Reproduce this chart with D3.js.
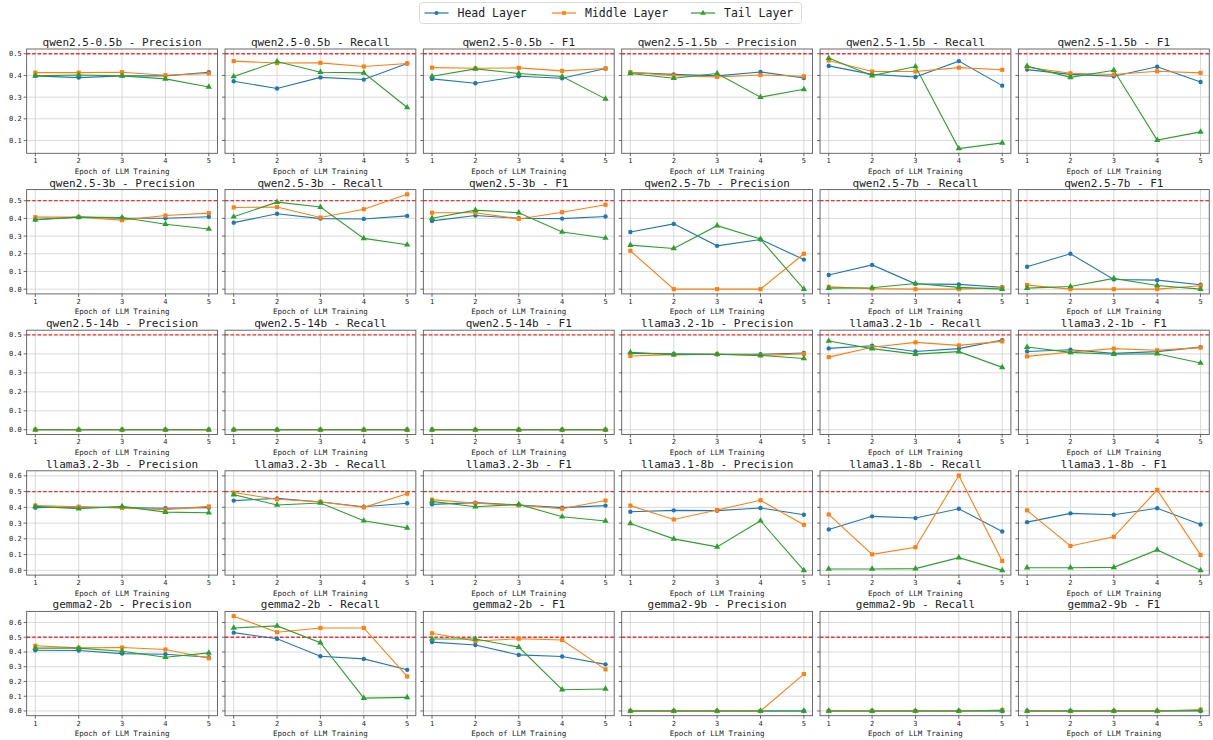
<!DOCTYPE html>
<html>
<head>
<meta charset="utf-8">
<script src="https://cdn.jsdelivr.net/npm/d3@7"></script>
<style>
    body { margin: 0; background: #fff; }
    text { font-family: "DejaVu Sans Mono", monospace; fill: #222; }
</style>
</head>
<body>
<div id="chart"></div>
<script>
// epochs on the x axis
const epochs = [1, 2, 3, 4, 5];
const layers = ["Head Layer", "Middle Layer", "Tail Layer"];
const layerColors = ["#1f77b4", "#ff7f0e", "#2ca02c"];
const layerSymbols = [d3.symbolCircle, d3.symbolSquare, d3.symbolTriangle];
const metrics = ["Precision", "Recall", "F1"];
const modelNames = ["qwen2.5-0.5b", "qwen2.5-1.5b", "qwen2.5-3b", "qwen2.5-7b", "qwen2.5-14b",
    "llama3.2-1b", "llama3.2-3b", "llama3.1-8b", "gemma2-2b", "gemma2-9b"];
const yTicksByRow = [
    [0.1, 0.2, 0.3, 0.4, 0.5],
    [0.0, 0.1, 0.2, 0.3, 0.4, 0.5],
    [0.0, 0.1, 0.2, 0.3, 0.4, 0.5],
    [0.0, 0.1, 0.2, 0.3, 0.4, 0.5, 0.6],
    [0.0, 0.1, 0.2, 0.3, 0.4, 0.5, 0.6]
];
const threshold = 0.5;

// each model: [Precision, Recall, F1], each metric: [head, middle, tail]
const qwen25_05b = [
    [[0.398, 0.390, 0.398, 0.398, 0.415], [0.413, 0.413, 0.415, 0.401, 0.409], [0.398, 0.402, 0.398, 0.384, 0.347]],
    [[0.373, 0.340, 0.391, 0.381, 0.455], [0.466, 0.457, 0.458, 0.441, 0.455], [0.395, 0.464, 0.415, 0.412, 0.252]],
    [[0.384, 0.364, 0.396, 0.387, 0.432], [0.436, 0.433, 0.435, 0.421, 0.432], [0.396, 0.430, 0.409, 0.395, 0.292]]
];
const qwen25_15b = [
    [[0.413, 0.405, 0.398, 0.416, 0.388], [0.415, 0.399, 0.393, 0.402, 0.396], [0.409, 0.387, 0.409, 0.300, 0.336]],
    [[0.444, 0.405, 0.393, 0.466, 0.353], [0.469, 0.418, 0.418, 0.436, 0.426], [0.480, 0.399, 0.441, 0.063, 0.089]],
    [[0.427, 0.405, 0.396, 0.440, 0.370], [0.438, 0.410, 0.404, 0.419, 0.412], [0.443, 0.391, 0.424, 0.102, 0.140]]
];
const qwen25_3b = [
    [[0.394, 0.407, 0.401, 0.401, 0.409], [0.407, 0.407, 0.390, 0.416, 0.430], [0.392, 0.407, 0.405, 0.367, 0.340]],
    [[0.376, 0.426, 0.399, 0.397, 0.414], [0.462, 0.464, 0.405, 0.452, 0.536], [0.409, 0.492, 0.464, 0.287, 0.251]],
    [[0.386, 0.416, 0.401, 0.399, 0.411], [0.432, 0.432, 0.397, 0.435, 0.477], [0.401, 0.447, 0.432, 0.323, 0.289]]
];
const qwen25_7b = [
    [[0.323, 0.369, 0.245, 0.281, 0.167], [0.217, 0.0, 0.0, 0.0, 0.200], [0.249, 0.230, 0.359, 0.283, 0.0]],
    [[0.080, 0.137, 0.030, 0.027, 0.011], [0.013, 0.003, 0.0, 0.0, 0.008], [0.006, 0.008, 0.032, 0.010, 0.0]],
    [[0.127, 0.200, 0.055, 0.051, 0.025], [0.023, 0.0, 0.0, 0.0, 0.019], [0.006, 0.015, 0.061, 0.021, 0.0]]
];
const qwen25_14b = [
    [[0, 0, 0, 0, 0], [0, 0, 0, 0, 0], [0, 0, 0, 0, 0]],
    [[0, 0, 0, 0, 0], [0, 0, 0, 0, 0], [0, 0, 0, 0, 0]],
    [[0, 0, 0, 0, 0], [0, 0, 0, 0, 0], [0, 0, 0, 0, 0]]
];
const llama32_1b = [
    [[0.403, 0.401, 0.398, 0.398, 0.405], [0.389, 0.396, 0.398, 0.392, 0.400], [0.408, 0.396, 0.398, 0.392, 0.376]],
    [[0.429, 0.443, 0.413, 0.428, 0.473], [0.383, 0.435, 0.461, 0.445, 0.466], [0.468, 0.428, 0.399, 0.412, 0.329]],
    [[0.413, 0.422, 0.403, 0.412, 0.436], [0.387, 0.410, 0.428, 0.419, 0.433], [0.436, 0.408, 0.398, 0.401, 0.352]]
];
const llama32_3b = [
    [[0.398, 0.402, 0.398, 0.394, 0.398], [0.411, 0.404, 0.396, 0.385, 0.406], [0.406, 0.391, 0.406, 0.370, 0.366]],
    [[0.443, 0.457, 0.434, 0.404, 0.426], [0.494, 0.451, 0.436, 0.400, 0.487], [0.481, 0.415, 0.428, 0.315, 0.270]],
    [[0.419, 0.430, 0.415, 0.398, 0.411], [0.449, 0.426, 0.413, 0.391, 0.443], [0.438, 0.404, 0.419, 0.340, 0.313]]
];
const llama31_8b = [
    [[0.372, 0.381, 0.379, 0.396, 0.353], [0.411, 0.323, 0.383, 0.445, 0.289], [0.298, 0.200, 0.149, 0.315, 0.0]],
    [[0.260, 0.343, 0.332, 0.391, 0.247], [0.355, 0.102, 0.147, 0.602, 0.060], [0.009, 0.009, 0.011, 0.081, 0.0]],
    [[0.306, 0.362, 0.353, 0.394, 0.291], [0.381, 0.155, 0.213, 0.511, 0.098], [0.017, 0.017, 0.019, 0.130, 0.0]]
];
const gemma2_2b = [
    [[0.412, 0.410, 0.389, 0.385, 0.364], [0.442, 0.428, 0.430, 0.417, 0.357], [0.426, 0.426, 0.405, 0.364, 0.394]],
    [[0.531, 0.490, 0.371, 0.353, 0.279], [0.643, 0.534, 0.563, 0.563, 0.234], [0.563, 0.577, 0.463, 0.087, 0.092]],
    [[0.467, 0.447, 0.380, 0.369, 0.316], [0.527, 0.474, 0.490, 0.481, 0.282], [0.488, 0.488, 0.433, 0.144, 0.149]]
];
const gemma2_9b = [
    [[0, 0, 0, 0, 0], [0, 0, 0, 0, 0.250], [0, 0, 0, 0, 0]],
    [[0, 0, 0, 0, 0], [0, 0, 0, 0, 0.007], [0, 0, 0, 0, 0.002]],
    [[0, 0, 0, 0, 0], [0, 0, 0, 0, 0.010], [0, 0, 0, 0, 0.003]]
];
const modelValues = [qwen25_05b, qwen25_15b, qwen25_3b, qwen25_7b, qwen25_14b,
    llama32_1b, llama32_3b, llama31_8b, gemma2_2b, gemma2_9b];

const width = 1213, height = 740;
const left0 = 26.65, top0 = 49;
const pw = 190.85, ph = 104.3;
const colStep = 198.35, rowStep = 140.6;

const svg = d3.select("#chart").append("svg")
    .attr("width", width)
    .attr("height", height);

const x = d3.scaleLinear().domain([0.8, 5.2]).range([0, pw]);

// legend
const legend = svg.append("g").attr("transform", "translate(419.5,2.5)");
legend.append("rect")
    .attr("width", 382).attr("height", 21).attr("rx", 3)
    .attr("fill", "#fff").attr("stroke", "#d0d0d0").attr("stroke-width", 0.8);
const legendX = [5, 132.5, 271.5];
layers.forEach((name, i) => {
    const item = legend.append("g").attr("transform", `translate(${legendX[i]},10.5)`);
    item.append("line").attr("x1", 0).attr("x2", 24)
        .attr("stroke", layerColors[i]).attr("stroke-width", 1.2);
    item.append("path").attr("transform", "translate(12,0)")
        .attr("d", d3.symbol().type(layerSymbols[i]).size(14)())
        .attr("fill", layerColors[i]);
    item.append("text").attr("x", 33).attr("y", 4)
        .attr("font-size", "11.5px").text(name);
});

for (let row = 0; row < 5; row++) {
    const rowModels = [modelValues[row * 2], modelValues[row * 2 + 1]];
    const allVals = rowModels.flat(3).concat([threshold]);
    const [lo, hi] = d3.extent(allVals);
    const pad = (hi - lo) * 0.05;
    const y = d3.scaleLinear().domain([lo - pad, hi + pad]).range([ph, 0]);
    const yTicks = yTicksByRow[row];

    for (let col = 0; col < 6; col++) {
        const mi = row * 2 + Math.floor(col / 3);
        const metric = col % 3;
        const series = modelValues[mi][metric];
        const g = svg.append("g")
            .attr("transform", `translate(${left0 + col * colStep},${top0 + row * rowStep})`);

        // grid
        g.selectAll(".gy").data(yTicks).enter().append("line")
            .attr("x1", 0).attr("x2", pw)
            .attr("y1", d => y(d)).attr("y2", d => y(d))
            .attr("stroke", "#d0d0d0").attr("stroke-width", 0.8);
        g.selectAll(".gx").data(epochs).enter().append("line")
            .attr("y1", 0).attr("y2", ph)
            .attr("x1", d => x(d)).attr("x2", d => x(d))
            .attr("stroke", "#d0d0d0").attr("stroke-width", 0.8);

        // threshold
        g.append("line")
            .attr("x1", 0).attr("x2", pw)
            .attr("y1", y(threshold)).attr("y2", y(threshold))
            .attr("stroke", "#ff0000").attr("stroke-width", 1.3)
            .attr("stroke-dasharray", "3.5,2").attr("opacity", 0.8);

        const line = d3.line().x((d, i) => x(epochs[i])).y(d => y(d));
        series.forEach((vals, li) => {
            g.append("path").datum(vals)
                .attr("d", line)
                .attr("fill", "none")
                .attr("stroke", layerColors[li])
                .attr("stroke-width", 1.1);
            g.selectAll(".m" + li).data(vals).enter().append("path")
                .attr("transform", (d, i) => `translate(${x(epochs[i])},${y(d)})`)
                .attr("d", d3.symbol().type(layerSymbols[li]).size(li === 0 ? 15 : 17)())
                .attr("fill", layerColors[li]);
        });

        // frame
        g.append("rect").attr("width", pw).attr("height", ph)
            .attr("fill", "none").attr("stroke", "#5a5a5a").attr("stroke-width", 0.9);

        // ticks
        g.selectAll(".ty").data(yTicks).enter().append("line")
            .attr("x1", -3).attr("x2", 0)
            .attr("y1", d => y(d)).attr("y2", d => y(d))
            .attr("stroke", "#444").attr("stroke-width", 0.8);
        g.selectAll(".tx").data(epochs).enter().append("line")
            .attr("y1", ph).attr("y2", ph + 3)
            .attr("x1", d => x(d)).attr("x2", d => x(d))
            .attr("stroke", "#444").attr("stroke-width", 0.8);
        g.selectAll(".lx").data(epochs).enter().append("text")
            .attr("x", d => x(d)).attr("y", ph + 10)
            .attr("text-anchor", "middle").attr("font-size", "7px")
            .text(d => d);
        if (col === 0) {
            g.selectAll(".ly").data(yTicks).enter().append("text")
                .attr("x", -5).attr("y", d => y(d) + 2.5)
                .attr("text-anchor", "end").attr("font-size", "7px")
                .text(d => d.toFixed(1));
        }

        g.append("text")
            .attr("x", pw / 2).attr("y", ph + 20.5)
            .attr("text-anchor", "middle").attr("font-size", "7.5px")
            .text("Epoch of LLM Training");

        g.append("text")
            .attr("x", pw / 2).attr("y", -3)
            .attr("text-anchor", "middle").attr("font-size", "11px")
            .text(`${modelNames[mi]} - ${metrics[metric]}`);
    }
}
</script>
</body>
</html>
